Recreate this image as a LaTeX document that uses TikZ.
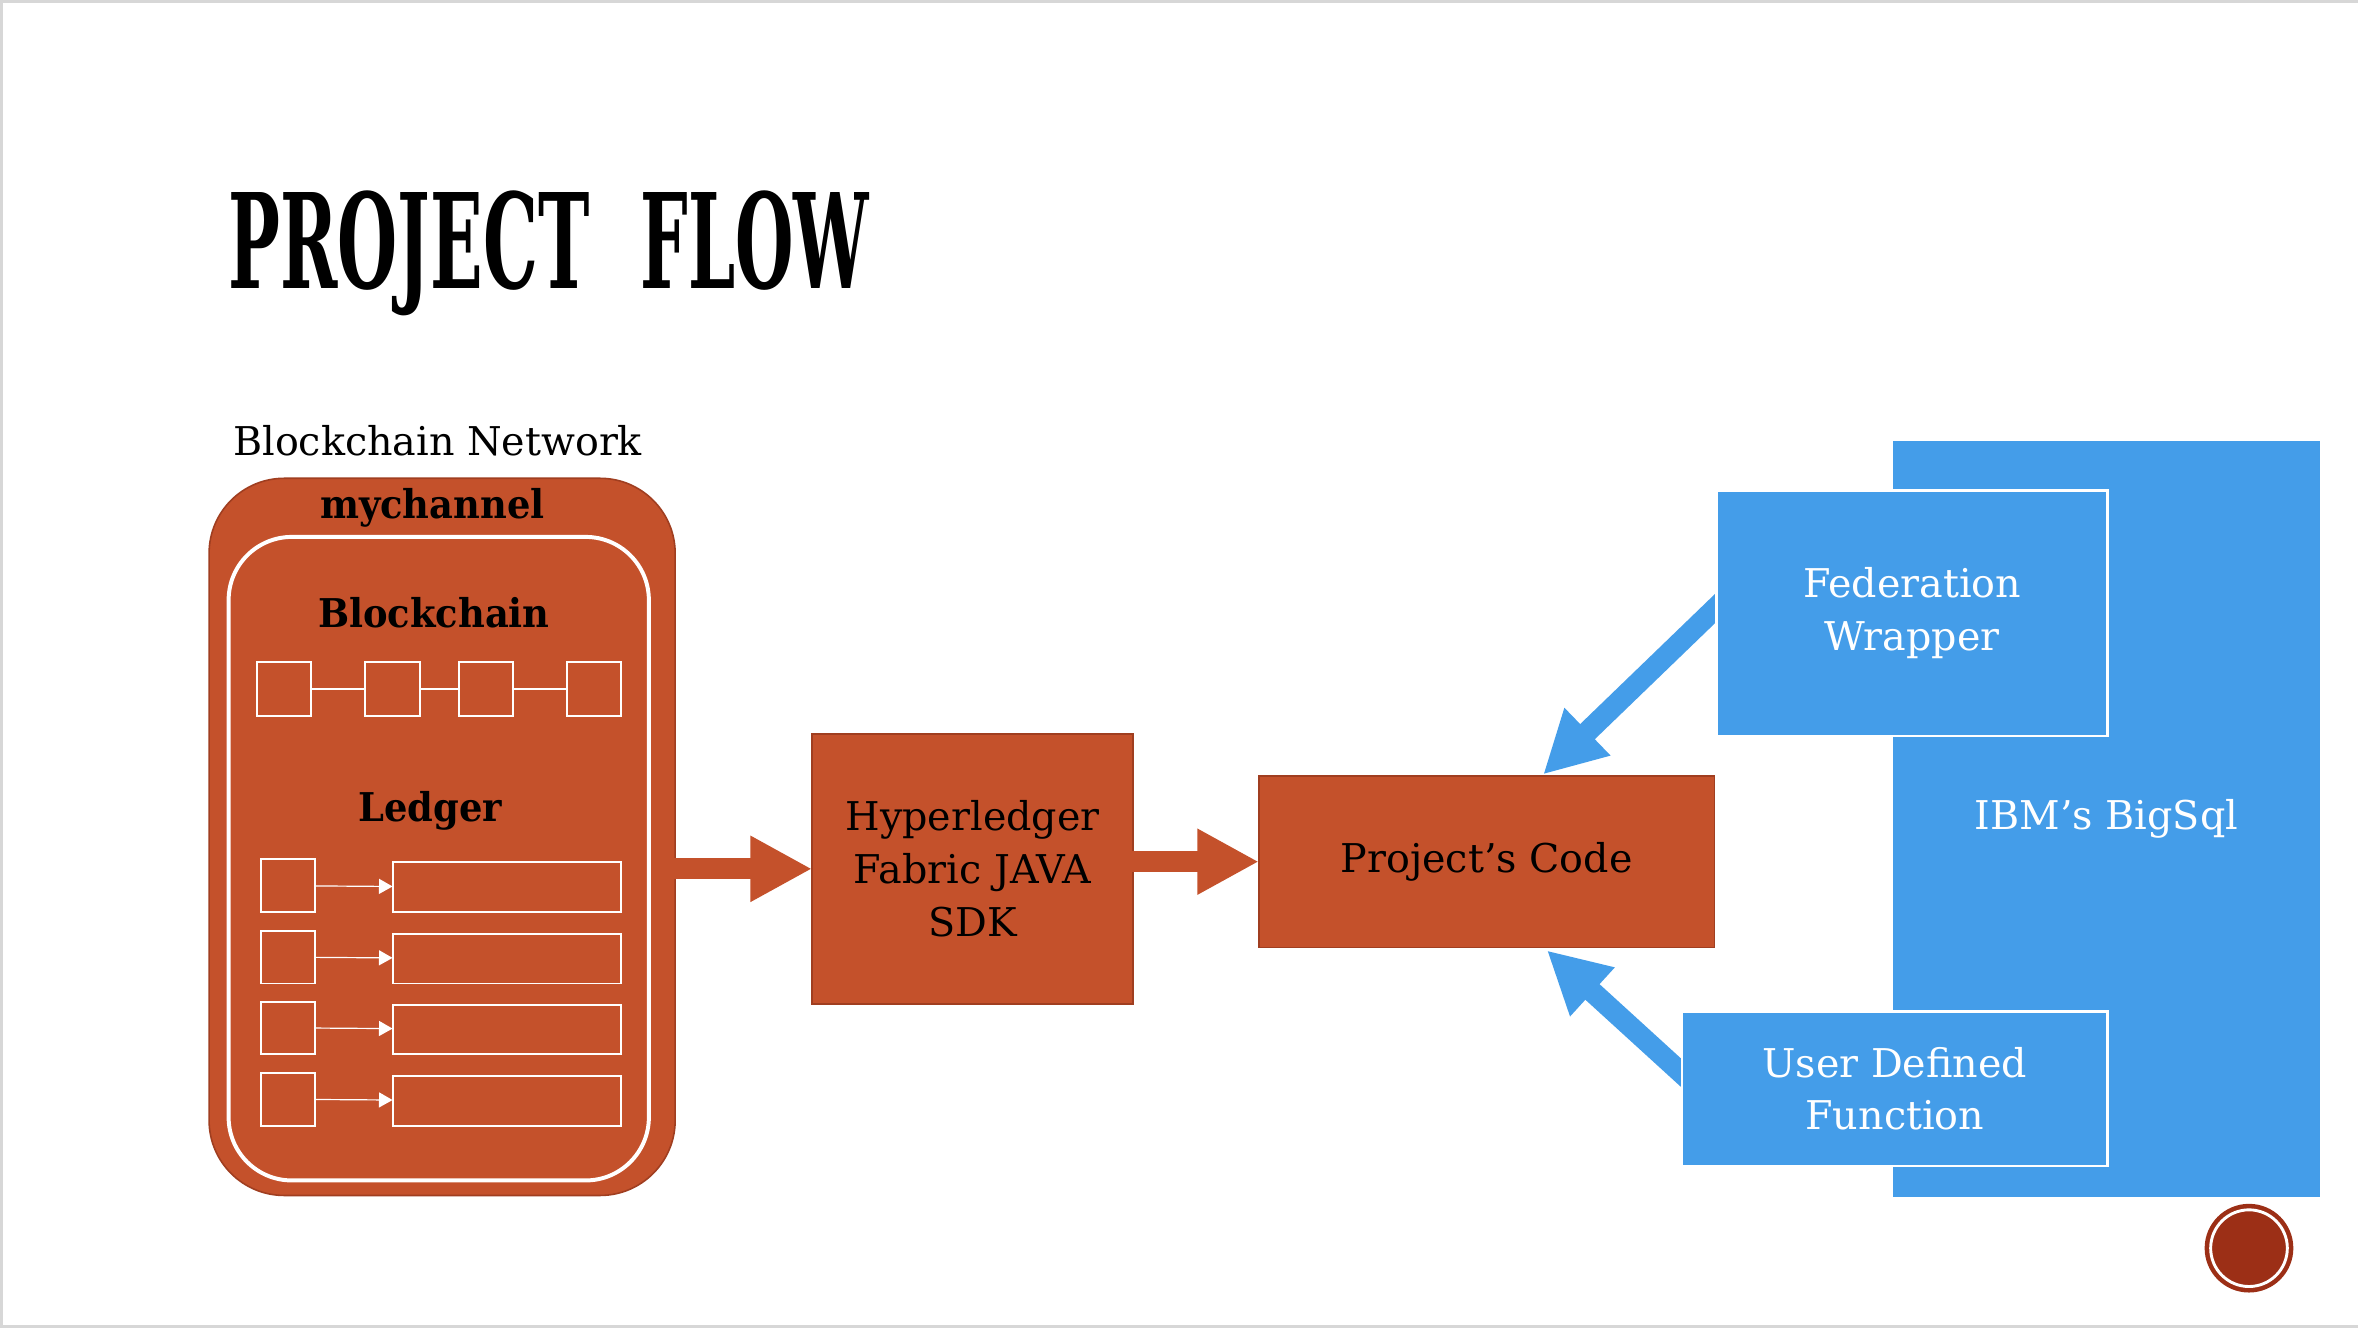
\documentclass[tikz,border=0pt]{standalone}
\usepackage{fontspec}
\usepackage{graphicx}
\usetikzlibrary{arrows.meta,calc,backgrounds}
\setmainfont{DejaVu Serif}
\newfontfamily\bodyfont{DejaVu Serif}
\newfontfamily\labelfont[FakeStretch=0.93]{DejaVu Serif}
\newfontfamily\titlefont[FakeStretch=0.6]{DejaVu Serif}
\definecolor{rust}{RGB}{196,81,43}
\definecolor{rustdark}{RGB}{160,62,32}
\definecolor{sky}{RGB}{68,157,233}
\definecolor{wine}{RGB}{156,47,22}
\definecolor{framegray}{RGB}{215,215,215}
\begin{document}
\begin{tikzpicture}[x=0.02cm,y=-0.02cm,
  every node/.style={inner sep=0pt,outer sep=0pt},
  txt/.style={font=\bodyfont\fontsize{15}{20}\selectfont},
  lbl/.style={font=\labelfont\bfseries\fontsize{15}{20}\selectfont},
  orangebox/.style={draw=rustdark,fill=rust,line width=0.6pt,txt,align=center,text=black},
  bluebox/.style={draw=white,fill=sky,line width=0.9pt,txt,align=center,text=white},
  wbox/.style={draw=white,line width=0.75pt},
  fatarrow/.style={line width=0.28cm,-{Triangle[length=0.82cm,width=0.82cm]}},
  ledarrow/.style={white,line width=0.45pt,-{Triangle[length=0.18cm,width=0.2cm]}}
]
\begin{pgfonlayer}{background}
\fill[white] (0,0) rectangle (1568,883.1);
\end{pgfonlayer}
\useasboundingbox (0,0) rectangle (1568,883.1);
\draw[framegray,line width=1.2pt] (1568,1) -- (1,1) -- (1,882) -- (1568,882);

% title
\node[anchor=base west] (title1) at (152,192) {\resizebox{4.8cm}{1.3cm}{\titlefont\bfseries PROJECT}};
\node[anchor=base west] (title2) at (426,192) {\resizebox{3.04cm}{1.3cm}{\titlefont\bfseries FLOW}};

% blockchain network
\node[txt,anchor=base] (bnlabel) at (291,303) {Blockchain Network};
\node[draw=rustdark,fill=rust,line width=0.6pt,rounded corners=1cm,
      minimum width=6.2cm,minimum height=9.54cm] (net) at (294,556.5) {};
\node[draw=white,line width=1.5pt,rounded corners=0.84cm,
      minimum width=5.59cm,minimum height=8.56cm] (inner) at (291.75,571) {};
\node[lbl,anchor=base] (chlabel) at (287.5,345) {mychannel};
\node[lbl,anchor=base] (bclabel) at (288.5,417) {Blockchain};
\node[lbl,anchor=base] (ldlabel) at (286,546) {Ledger};

\foreach \i/\x in {1/189,2/261,3/323,4/395}{
  \node[wbox,minimum width=0.72cm,minimum height=0.72cm] (c\i) at (\x,458) {};
}
\draw[white,line width=0.9pt] (c1) -- (c2) (c2) -- (c3) (c3) -- (c4);

\foreach \i/\y in {1/589,2/636.5,3/683.5,4/731}{
  \node[wbox,minimum width=0.71cm,minimum height=0.70cm] (s\i) at (191.6,\y) {};
  \node[wbox,minimum width=3.04cm,minimum height=0.66cm] (l\i) at (337,\y+1) {};
  \draw[ledarrow] (s\i) -- (l\i);
}

% middle boxes
\node[orangebox,minimum width=4.27cm,minimum height=3.59cm] (hyper) at (646.75,577.75) {Hyperledger\\Fabric JAVA\\SDK};
\node[orangebox,minimum width=6.06cm,minimum height=2.28cm] (code) at (988.6,573) {Project’s Code};
\draw[fatarrow,color=rust] ($(net.east |- hyper.west)+(-2,0)$) -- (hyper.west);
\draw[fatarrow,color=rust] ($(hyper.east |- code.west)+(-1,0)$) -- (code.west);

% IBM BigSql
\node[fill=sky,minimum width=5.69cm,minimum height=10.06cm,txt,text=white] (bigsql) at (1400.75,544.5) {IBM’s BigSql};
\node[bluebox,minimum width=5.2cm,minimum height=3.26cm] (fed) at (1271.5,407.75) {Federation\\Wrapper};
\node[bluebox,minimum width=5.66cm,minimum height=2.06cm] (udf) at (1260,724) {User Defined\\Function};
\begin{pgfonlayer}{background}
\draw[fatarrow,color=sky] ($(fed.west)+(9.5,-13.3)$) -- ($(code.north west)+(189,-1)$);
\draw[fatarrow,color=sky] ($(udf.west)+(11,0)$) -- ($(code.south west)+(191.5,2)$);
\end{pgfonlayer}

% badge
\node[circle,fill=wine,minimum size=1.18cm] (badge) at (1495.5,830) {};
\draw[white,line width=1.1pt] (badge.center) circle[radius=0.51cm];
\end{tikzpicture}
\end{document}
